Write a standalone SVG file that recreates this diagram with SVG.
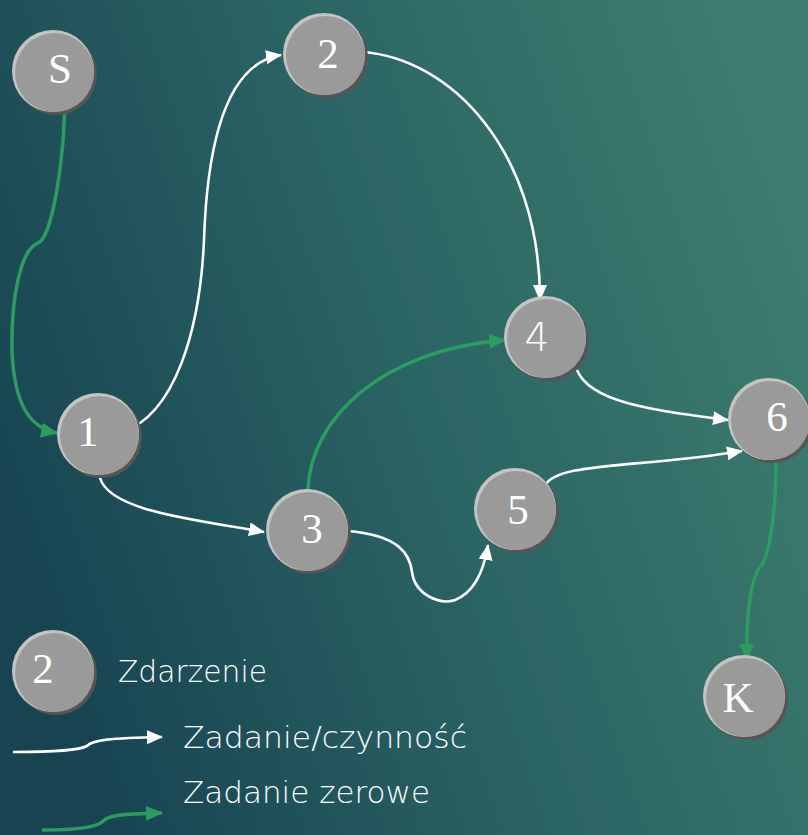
<svg xmlns="http://www.w3.org/2000/svg" xmlns:xlink="http://www.w3.org/1999/xlink" width="808" height="835" viewBox="0 0 808 835">
<style>
.lbl{font-family:"Liberation Serif","Times New Roman",serif;font-size:43px;fill:#ffffff;text-anchor:middle}
.lbls{font-family:"DejaVu Sans","Liberation Sans",sans-serif;font-size:39px;font-weight:200;fill:#ffffff;text-anchor:middle}
.leg{font-family:"DejaVu Sans","Liberation Sans",sans-serif;font-size:31px;font-weight:200;fill:#ffffff}
.task{fill:none;stroke:#ffffff;stroke-width:2.6;marker-end:url(#aw)}
.zero{fill:none;stroke:#2e9c62;stroke-width:3.5;marker-end:url(#ag)}
</style>
<defs>
<linearGradient id="bg" x1="0" y1="0.6" x2="1" y2="0.25">
<stop offset="0" stop-color="#184452"/>
<stop offset="0.5" stop-color="#2b6464"/>
<stop offset="1" stop-color="#3e7d6f"/>
</linearGradient>
<marker id="aw" viewBox="0 0 16 14" refX="15" refY="7" markerWidth="16" markerHeight="14" markerUnits="userSpaceOnUse" orient="auto">
<path d="M0,0 L16,7 L0,14 Z" fill="#ffffff"/>
</marker>
<marker id="ag" viewBox="0 0 16 14" refX="15" refY="7" markerWidth="17" markerHeight="15" markerUnits="userSpaceOnUse" orient="auto">
<path d="M0,0 L16,7 L0,14 Z" fill="#2e9c62"/>
</marker>
<g id="ns">
<circle cx="3" cy="3" r="41" fill="#555555"/>
<circle cx="0" cy="0" r="41" fill="#c4c4c4"/>
<circle cx="1.5" cy="1.5" r="39.5" fill="#9a9a9a"/>
</g>
</defs>
<rect width="808" height="835" fill="url(#bg)"/>
<g id="connectors">
<path class="task" d="M122,432 C175,415 200,330 204,240 C208,120 235,62 281,55"/>
<path class="task" d="M362,52 C450,58 540,150 540,300"/>
<path class="task" d="M577,370 C590,402 650,410 728,420"/>
<path class="task" d="M545,486 C555,462 640,468 742,451"/>
<path class="task" d="M100,478 C110,512 200,520 264,532"/>
<path class="task" d="M347,531 C400,535 410,555 412,572 C415,595 440,605 455,600 C475,592 484,570 488,545"/>
<path class="zero" d="M65,90 C65,160 52,238 38,243 C20,250 11,300 12,350 C14,405 30,428 57,433"/>
<path class="zero" d="M308,490 C310,420 380,350 505,340"/>
<path class="zero" d="M776,458 C776,520 768,560 760,567 C750,580 746,620 747,660"/>
</g>
<g id="node-S"><use xlink:href="#ns" x="53" y="71"/><text class="lbl" x="60" y="83">S</text></g>
<g id="node-1"><use xlink:href="#ns" x="98" y="434"/><text class="lbl" x="88" y="446">1</text></g>
<g id="node-2"><use xlink:href="#ns" x="324" y="54"/><text class="lbl" x="328" y="68">2</text></g>
<g id="node-3"><use xlink:href="#ns" x="307" y="530"/><text class="lbl" x="312" y="543">3</text></g>
<g id="node-4"><use xlink:href="#ns" x="545" y="337"/><text class="lbls" x="537" y="351">4</text></g>
<g id="node-5"><use xlink:href="#ns" x="515" y="509"/><text class="lbl" x="518" y="524">5</text></g>
<g id="node-6"><use xlink:href="#ns" x="769" y="419"/><text class="lbl" x="777" y="431">6</text></g>
<g id="node-K"><use xlink:href="#ns" x="744" y="696"/><text class="lbl" x="738" y="712">K</text></g>
<g id="legend">
<use xlink:href="#ns" x="53" y="671"/><text class="lbl" x="43" y="683">2</text>
<text class="leg" x="118" y="682" textLength="149" lengthAdjust="spacingAndGlyphs">Zdarzenie</text>
<path class="task" d="M13,752 C50,752 80,750 87,746 C92,740 110,738 162,737"/>
<text class="leg" x="183" y="748" textLength="284" lengthAdjust="spacingAndGlyphs">Zadanie/czynność</text>
<path class="zero" d="M42,830 C70,830 95,828 102,822 C108,815 120,814 162,813"/>
<text class="leg" x="183" y="803" textLength="247" lengthAdjust="spacingAndGlyphs">Zadanie zerowe</text>
</g>
</svg>
